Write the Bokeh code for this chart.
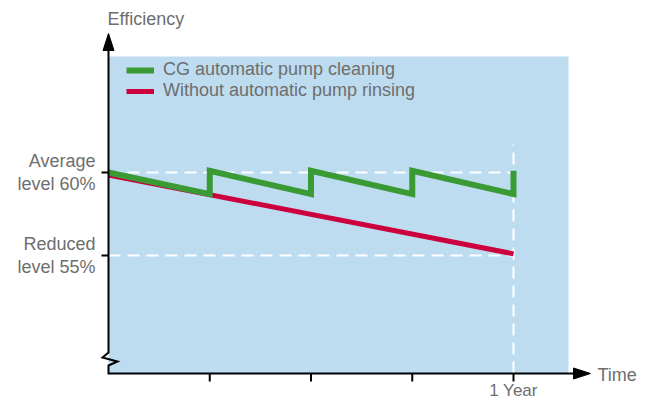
from bokeh.plotting import figure
from bokeh.models import Range1d, Legend, LegendItem
from bokeh.core.properties import value
from bokeh.embed import file_html
from bokeh.resources import INLINE

# ---- data ----
quarters = [0.0, 0.25, 0.25, 0.5, 0.5, 0.75, 0.75, 1.0, 1.0]
cg_efficiency = [60.0, 58.7, 60.1, 58.7, 60.1, 58.7, 60.1, 58.7, 60.1]
no_rinse_time = [0.0, 1.0]
no_rinse_efficiency = [59.85, 55.1]
level_ticks = [55, 60]
level_labels = ["Reduced\nlevel 55%", "Average\nlevel 60%"]
time_ticks = [0.25, 0.5, 0.75, 1.0]
year_tick = 1.0
year_label = "1 Year"
series_names = ["CG automatic pump cleaning", "Without automatic pump rinsing"]
axis_titles = ["Efficiency", "Time"]

# ---- style / layout ----
BG = "#bddcf0"
GREEN = "#3a9b35"
RED = "#cc003d"
TXT = "#6e6e6e"
FONT = value("Liberation Sans")
FS = value("18px")
W, H = 651, 401
ORIGIN_PX = (108, 373)     # canvas pixel of (time 0, bottom of plot area)
PX_PER_YEAR = 405.0
PX_PER_PCT = 16.6
REF_PCT, REF_PY = 60.0, 172  # 60 % level sits at canvas y=172


def X(px):
    """canvas x pixel -> time units"""
    return (px - ORIGIN_PX[0]) / PX_PER_YEAR


def Y(py):
    """canvas y pixel -> percent units"""
    return REF_PCT - (py - REF_PY) / PX_PER_PCT


p = figure(width=W, height=H, x_range=Range1d(X(0), X(W)), y_range=Range1d(Y(H), Y(0)),
           output_backend="svg", toolbar_location=None,
           x_axis_location=None, y_axis_location=None, min_border=0,
           background_fill_color="white", border_fill_color="white", outline_line_color=None)
p.grid.visible = False

x_lo, x_hi = X(108), X(568)
y_lo, y_hi = Y(373), Y(56)

# plot area
p.quad(left=x_lo, right=x_hi, bottom=y_lo, top=y_hi, fill_color=BG, line_color=None)

# dashed reference lines
DASH = "12 7"
p.line([x_lo, year_tick], [level_ticks[1]] * 2, line_color="white", line_width=2, line_dash=DASH)
p.line([x_lo, year_tick], [level_ticks[0]] * 2, line_color="white", line_width=2, line_dash=DASH)
p.line([year_tick, year_tick], [y_lo, Y(144)], line_color="white", line_width=2, line_dash=DASH)

# series
r_red = p.line(no_rinse_time, no_rinse_efficiency, line_color=RED, line_width=5)
r_green = p.line(quarters, cg_efficiency, line_color=GREEN, line_width=6, line_join="miter")

legend = Legend(items=[LegendItem(label=series_names[0], renderers=[r_green]),
                       LegendItem(label=series_names[1], renderers=[r_red])],
                location=(126, H - 101), padding=0, margin=0, spacing=0,
                glyph_width=28, glyph_height=20, label_height=20, label_standoff=9,
                label_text_font=FONT.value, label_text_font_size=FS.value, label_text_color=TXT,
                background_fill_alpha=0, border_line_color=None)
p.add_layout(legend)

# axis lines (with break mark) and arrow heads
axis_x = [X(573), x_lo, x_lo, X(117), X(102), x_lo, x_lo]
axis_y = [y_lo, y_lo, Y(365), Y(361), Y(357), Y(352), Y(50)]
p.line(axis_x, axis_y, line_color="black", line_width=2, line_join="miter")
p.patch([x_lo, X(108 - 5.5), X(108 + 5.5)], [Y(33), Y(50), Y(50)], fill_color="black", line_color="black")
p.patch([X(590), X(573), X(573)], [y_lo, Y(373 - 5.5), Y(373 + 5.5)], fill_color="black", line_color="black")

# ticks
p.segment(x0=[X(101)] * len(level_ticks), y0=level_ticks, x1=[x_lo] * len(level_ticks), y1=level_ticks,
          line_color="black", line_width=2)
p.segment(x0=time_ticks, y0=[y_lo] * len(time_ticks), x1=time_ticks, y1=[Y(381)] * len(time_ticks),
          line_color="black", line_width=2)

# tick labels
p.text(x=[X(95)] * len(level_ticks), y=level_ticks, text=level_labels, text_font=FONT,
       text_font_size=FS, text_color=TXT, text_align="right", text_baseline="middle",
       text_line_height=1.17)
p.text(x=[year_tick], y=[Y(390)], text=[year_label], text_font=FONT, text_font_size=value("17px"),
       text_color=TXT, text_align="center", text_baseline="middle")

# axis titles
p.text(x=[X(107), X(597)], y=[Y(18), Y(374)], text=axis_titles, text_font=FONT,
       text_font_size=FS, text_color=TXT, text_align="left", text_baseline="middle")

open("out.html", "w").write(file_html(p, INLINE))
